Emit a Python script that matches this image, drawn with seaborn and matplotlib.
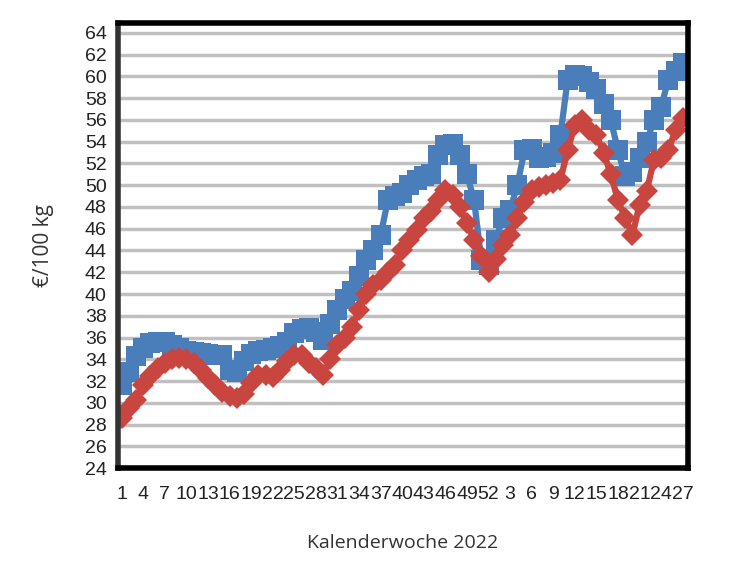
import numpy as np
import pandas as pd
import matplotlib
matplotlib.use("Agg")
import matplotlib.pyplot as plt
import seaborn as sns

sns.set_style("white")
plt.rcParams['font.family'] = ['Liberation Sans Narrow', 'Liberation Sans', 'DejaVu Sans']

# Kalenderwochen: 2022 KW 1-52, danach 2023 KW 1-27
weeks = list(range(1, 53)) + list(range(1, 28))

# Preise in €/100 kg
blue = [31.6, 32.8, 34.3, 35.0, 35.5, 35.6, 35.6, 35.3, 35.0, 34.8,
        34.7, 34.6, 34.5, 34.4, 34.4, 33.0, 32.8, 33.8, 34.5, 34.8,
        34.9, 35.0, 35.2, 35.6, 36.4, 36.8, 36.9, 36.5, 35.8, 37.2,
        38.5, 39.5, 40.3, 41.7, 43.1, 44.0, 45.4, 48.6, 49.0, 49.3,
        50.0, 50.5, 50.8, 51.0, 52.8, 53.7, 53.8, 52.8, 51.0, 48.6,
        43.1, 42.7, 45.0, 47.0, 47.7, 50.0, 53.2, 53.3, 52.5, 52.6,
        53.0, 54.6, 59.7, 60.1, 60.0, 59.5, 58.8, 57.5, 56.0, 53.2,
        50.8, 51.2, 52.5, 54.0, 56.0, 57.2, 59.7, 60.5, 61.2]
red = [28.6, 29.5, 30.3, 31.6, 32.5, 33.2, 33.7, 34.0, 34.1, 34.0,
       33.7, 33.0, 32.3, 31.6, 31.0, 30.6, 30.4, 30.8, 31.8, 32.6,
       32.6, 32.4, 33.0, 33.8, 34.4, 34.4, 33.7, 33.2, 32.6, 34.0,
       35.3, 36.0, 37.0, 38.5, 40.0, 40.8, 41.3, 42.0, 42.7, 44.0,
       45.0, 45.9, 47.0, 47.6, 48.6, 49.6, 49.1, 48.0, 46.5, 45.0,
       43.5, 42.0, 43.2, 44.5, 45.4, 47.0, 48.5, 49.6, 49.8, 50.0,
       50.2, 50.5, 53.2, 55.5, 56.0, 55.1, 54.6, 53.0, 51.0, 48.6,
       47.0, 45.4, 48.2, 49.5, 52.3, 52.5, 53.2, 55.1, 56.2]

df = pd.DataFrame({'idx': np.arange(len(weeks)), 'blue': blue, 'red': red})

fig = plt.figure(figsize=(7.5, 5.62), dpi=100)
ax = fig.add_axes([0.157, 0.167, 0.76, 0.792])

sns.lineplot(data=df, x='idx', y='blue', ax=ax, color='#4a7ebb', lw=4.5,
             marker='s', markersize=14, markeredgewidth=0)
sns.lineplot(data=df, x='idx', y='red', ax=ax, color='#c8463f', lw=4.5,
             marker='D', markersize=11, markeredgewidth=0)

ax.set_ylim(24, 64.9)
ax.set_xlim(-0.55, 78.7)
ax.set_yticks(range(24, 66, 2))
ax.set_yticklabels([str(v) for v in range(24, 66, 2)], fontsize=14, color='#222222')
ax.set_xticks(range(0, len(weeks), 3))
ax.set_xticklabels([str(weeks[i]) for i in range(0, len(weeks), 3)],
                   fontsize=14, color='#222222')
ax.tick_params(axis='y', length=0, pad=8)
ax.tick_params(axis='x', length=0, pad=13)
ax.grid(axis='y', color='#c0c0c0', lw=2.5)
ax.set_axisbelow(True)
for s in ax.spines.values():
    s.set_color('black')
    s.set_linewidth(4)
ax.spines['left'].set_color('#333333')

ax.set_xlabel('Kalenderwoche 2022', fontsize=14, color='#333333', labelpad=22,
              family=['Open Sans', 'DejaVu Sans'])
ax.set_ylabel('€/100 kg', fontsize=15, color='#333333', labelpad=22,
              family=['Open Sans', 'DejaVu Sans'])

fig.savefig('out.png', dpi=100)
